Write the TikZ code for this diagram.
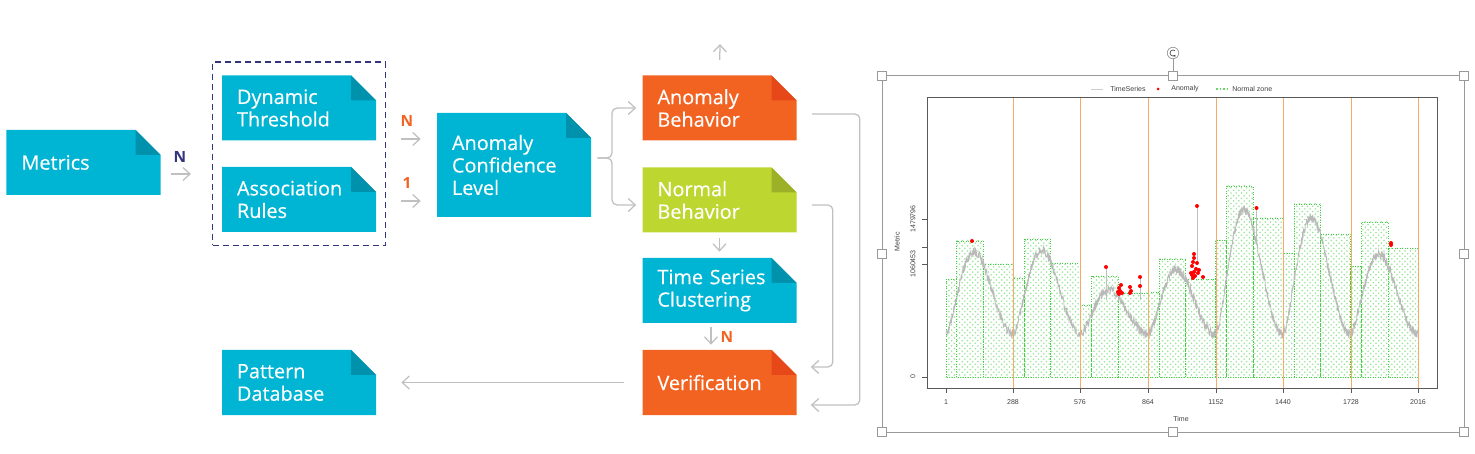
\documentclass[tikz,border=0pt]{standalone}
\usepackage{fontspec}
\setmainfont{Open Sans}
\newfontfamily\boxfont{Open Sans}[FakeBold=0.35]
\newfontfamily\chartfont{Liberation Sans}
\usetikzlibrary{arrows.meta,fit,patterns}
\definecolor{cyanbox}{RGB}{0,180,212}
\definecolor{cyanfold}{RGB}{0,146,172}
\definecolor{orangebox}{RGB}{242,99,34}
\definecolor{orangefold}{RGB}{230,72,26}
\definecolor{greenbox}{RGB}{190,215,48}
\definecolor{greenfold}{RGB}{156,176,40}
\definecolor{navy}{RGB}{50,52,125}
\definecolor{arrowgray}{RGB}{192,192,192}
\definecolor{zonegreen}{RGB}{70,205,70}
\definecolor{dayorange}{RGB}{248,170,104}
\tikzset{
  doc/.style 2 args={fill=white, text=white, minimum width=30.8mm, minimum height=13mm,
    text width=24.8mm, inner xsep=3mm, inner ysep=0pt, align=left,
    font=\boxfont\fontsize{11.3}{12.8}\selectfont,
    path picture={
      \fill[#1] (path picture bounding box.south west)
        -- (path picture bounding box.north west)
        -- ([xshift=-5mm]path picture bounding box.north east)
        -- ([yshift=-5mm]path picture bounding box.north east)
        -- (path picture bounding box.south east) -- cycle;
      \fill[#2] ([xshift=-5mm]path picture bounding box.north east)
        -- ([xshift=-5mm,yshift=-5mm]path picture bounding box.north east)
        -- ([yshift=-5mm]path picture bounding box.north east) -- cycle;
    }},
  grp/.style={draw=navy, line width=0.3mm, dash pattern=on 1.2mm off 0.8mm,
    inner xsep=1.8mm, inner ysep=2.6mm},
  arr/.style={draw=arrowgray, line width=0.25mm,
    -{Straight Barb[length=1.4mm,width=2.6mm]}},
  lbl/.style={font=\fontsize{8.8}{10}\selectfont\bfseries, inner sep=0pt},
  nzone/.style={draw=zonegreen, densely dotted, line width=0.15mm,
    pattern=crosshatch dots, pattern color=zonegreen!55},
  chart/.style={font=\chartfont\fontsize{4}{5}\selectfont, text=black!75, inner sep=0pt},
  handle/.style={draw=gray!80, fill=white, line width=0.15mm, minimum size=1.8mm, inner sep=0pt},
}
\begin{document}
\begin{tikzpicture}[x=0.2mm, y=-0.2mm]
  \useasboundingbox (0,0) rectangle (1475,454);
  \node[doc={cyanbox}{cyanfold}] (Met) at (83.5,162.5) {Metrics};
  \node[doc={cyanbox}{cyanfold}] (Dyn) at (299,108) {Dynamic\\Threshold};
  \node[doc={cyanbox}{cyanfold}] (Asr) at (299,199.5) {Association\\Rules};
  \node[doc={cyanbox}{cyanfold}, minimum height=20.8mm] (Acl) at (514,165) {Anomaly\\Confidence\\Level};
  \node[doc={orangebox}{orangefold}] (Anb) at (719.5,108) {Anomaly\\Behavior};
  \node[doc={greenbox}{greenfold}] (Nob) at (719.5,200) {Normal\\Behavior};
  \node[doc={cyanbox}{cyanfold}] (Tsc) at (719.5,290.5) {Time Series\\Clustering};
  \node[doc={orangebox}{orangefold}] (Ver) at (719.5,382.5) {Verification};
  \node[doc={cyanbox}{cyanfold}] (Pdb) at (299,382.5) {Pattern\\Database};
  \node[grp, fit=(Dyn)(Asr)] (Grp) {};
  \coordinate (Br) at (612,158);
  \coordinate (Up) at (720,44);
  \draw[arr, shorten <=2mm, shorten >=4.2mm] (Met.east |- 0,174) to (Grp.west |- 0,174);
  \draw[arr, shorten <=3mm, shorten >=3.2mm] (Grp.east |- 0,139) to (Acl.west |- 0,139);
  \draw[arr, shorten <=3mm, shorten >=3.2mm] (Grp.east |- 0,201) to (Acl.west |- 0,201);
  \draw[arr, rounded corners=1mm, shorten <=1.2mm, shorten >=1.2mm] (Acl.east |- Br) -- (Br) |- (Anb.west);
  \draw[arr, rounded corners=1mm, shorten <=1.2mm, shorten >=1.2mm] (Acl.east |- Br) -- (Br) |- ([yshift=-1mm]Nob.west);
  \draw[arr, shorten <=3mm] (Anb.north) to (Up);
  \draw[arr, shorten <=1mm, shorten >=1.2mm] (Nob) to (Tsc);
  \draw[arr, shorten <=0.8mm, shorten >=1mm] ([xshift=-1.7mm]Tsc.south) to ([xshift=-1.7mm]Ver.north);
  \draw[arr, shorten <=3.6mm, shorten >=5mm] (Ver) to (Pdb);
  \draw[arr, rounded corners=1mm, shorten <=3mm, shorten >=2.8mm] ([yshift=-1mm]Nob.east) -- ++(36,0) |- ([yshift=3.1mm]Ver.east);
  \draw[arr, rounded corners=1mm, shorten <=3mm, shorten >=2.8mm] ([yshift=-1.2mm]Anb.east) -- ++(63,0) |- ([yshift=-4.5mm]Ver.east);
  \node[lbl, text=navy] (N1) at (180,157) {N};
  \node[lbl, text=orangebox] (N2) at (407,121) {N};
  \node[lbl, text=orangebox] (N3) at (407,183) {1};
  \node[lbl, text=orangebox] (N4) at (727,337) {N};
  \draw[gray!80, line width=0.2mm] (882,76) rectangle (1464,432);
  \foreach \hx/\hy [count=\i] in {882/76,1173/76,1464/76,882/254,1464/254,882/432,1173/432,1464/432}
    \node[handle] (H\i) at (\hx,\hy) {};
  \node[circle, draw=gray!80, fill=white, line width=0.15mm, minimum size=2.3mm, inner sep=0pt] (Rot) at (1173,53) {};
  \draw[gray!80, line width=0.2mm] (Rot) to (H2);
  \draw[black!70, line width=0.13mm, -{Stealth[length=0.4mm,width=0.6mm]}]
    ([shift={(50:0.6mm)}]Rot.center) arc[start angle=50, end angle=320, radius=0.6mm];
  \foreach \xa/\xb/\yt in {946.1/956.5/279, 956.5/983.1/241, 983.1/1012.9/264,
      1012.9/1024.8/278, 1024.8/1050.7/239, 1050.7/1080.8/263,
      1080.8/1091.6/305, 1091.6/1117.9/276, 1117.9/1148/293,
      1148/1159.6/292, 1159.6/1185.8/259, 1185.8/1215.6/279,
      1215.6/1226.8/240, 1226.8/1253.4/186, 1253.4/1283.1/218,
      1283.1/1293.9/253, 1293.9/1320.6/204, 1320.6/1350.7/234,
      1350.7/1361.5/266, 1361.5/1388.1/222, 1388.1/1418.3/248}
    \draw[nzone] (\xa,377) rectangle (\xb,\yt);
  \pgfmathsetseed{11}
  \foreach \d/\a in {0/82,1/84,2/44,3/64,4/124,5/116,6/80}
    \draw[gray!55, line width=0.14mm] plot[domain=1:288, samples=220]
      ({946+(288*\d+\x-1)*0.2342}, {334-\a*(1-cos(360*pow(\x/288,0.8)))/2+4.5*rand});
  \draw[gray!50, line width=0.12mm] (1106,267) -- (1106,300);
  \draw[gray!50, line width=0.12mm] (1140,277) -- (1140,300);
  \draw[gray!50, line width=0.12mm] (1197,206) -- (1197,265);
  \draw[gray!50, line width=0.12mm] (1256.5,208) -- (1256.5,240);
  \foreach \xx in {1013,1080,1148,1216,1283,1351,1418}
    \draw[dayorange, line width=0.2mm] (\xx,97) -- (\xx,388);
  \foreach \px/\py in {972/241, 1106/267, 1119/288, 1120/291, 1121/285, 1118/292,
      1122/293, 1119/294, 1130/287, 1131/291, 1130/293, 1140/277, 1140/286,
      1197/206, 1256.5/208, 1194/254, 1194/258, 1193/262, 1197/263, 1192/266,
      1196/269, 1194/272, 1198/273, 1192/275, 1195/276, 1193/278, 1191/273,
      1199/270, 1203/277, 1391/243, 1391/245}
    \fill[red] (\px,\py) circle (0.4mm);
  \draw[gray!70!black, line width=0.15mm] (927,97) rectangle (1437,388);
  \foreach \yy/\lab [count=\i] in {219/1479796, 247/, 264/1060453, 377/0} {
    \draw[gray!70!black, line width=0.15mm] (927,\yy) -- (922,\yy);
    \node[chart, rotate=90] (YT\i) at (913,\yy) {\lab};
  }
  \foreach \xx/\lab [count=\i] in {946/1, 1013/288, 1080/576, 1148/864, 1216/1152, 1283/1440, 1351/1728, 1418/2016} {
    \draw[gray!70!black, line width=0.15mm] (\xx,388) -- (\xx,393);
    \node[chart] (XT\i) at (\xx,402) {\lab};
  }
  \node[chart, rotate=90] (Ylab) at (897,242) {Metric};
  \node[chart] (Xlab) at (1181,419) {Time};
  \draw[gray!40, line width=0.15mm] (1091,89) -- (1103,89);
  \node[chart, anchor=west] (L1) at (1110,89) {TimeSeries};
  \fill[red] (1158,89) circle (0.3mm);
  \node[chart, anchor=west] (L2) at (1171,89) {Anomaly};
  \draw[zonegreen!80, dash pattern=on 0.3mm off 0.4mm, line width=0.25mm] (1216,89) -- (1227,89);
  \node[chart, anchor=west] (L3) at (1232,89) {Normal zone};
\end{tikzpicture}
\end{document}
